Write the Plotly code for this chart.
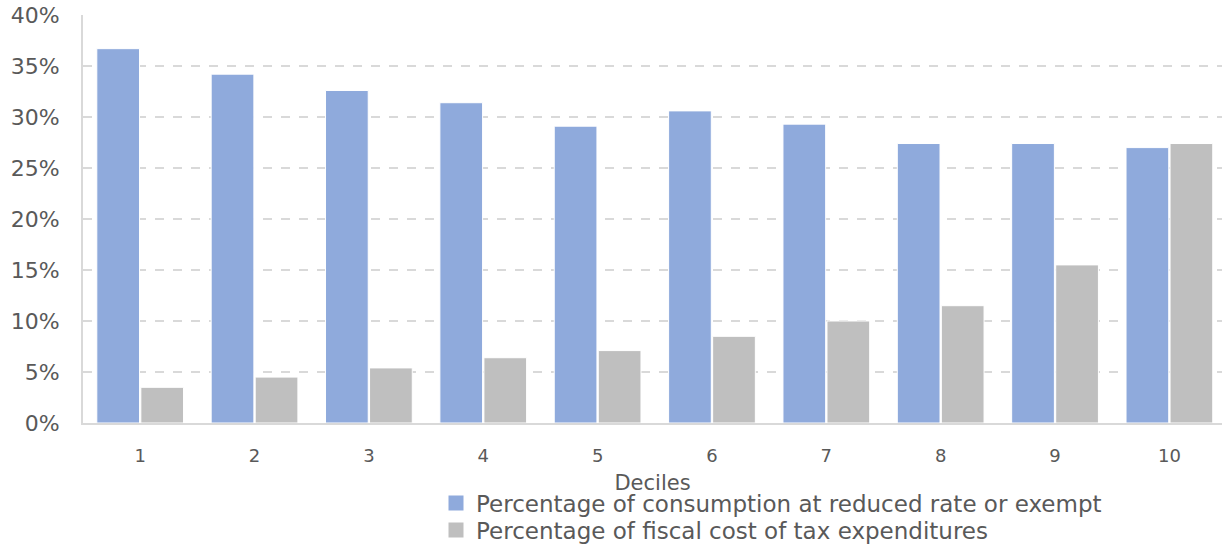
import plotly.graph_objects as go

deciles = [1, 2, 3, 4, 5, 6, 7, 8, 9, 10]
consumption_reduced = [36.7, 34.2, 32.6, 31.4, 29.1, 30.6, 29.3, 27.4, 27.4, 27.0]
fiscal_cost = [3.5, 4.5, 5.4, 6.4, 7.1, 8.5, 10.0, 11.5, 15.5, 27.4]
y_ticks = [0, 5, 10, 15, 20, 25, 30, 35, 40]

series_names = [
    "Percentage of consumption at reduced rate or exempt",
    "Percentage of fiscal cost of tax expenditures",
]
series_colors = ["#8faadc", "#bfbfbf"]
legend_ids = ["legend", "legend2"]

FONT = "DejaVu Sans, Verdana, sans-serif"
TEXT = "#595959"
GRID = "#d9d9d9"

fig = go.Figure()
for name, vals, color, lg in zip(series_names, [consumption_reduced, fiscal_cost],
                                 series_colors, legend_ids):
    fig.add_trace(go.Bar(
        x=deciles, y=vals, name=name, showlegend=False,
        marker=dict(color=color, line=dict(color="#ffffff", width=1)),
    ))
    # legend entry with a larger square swatch
    fig.add_trace(go.Scatter(
        x=[None], y=[None], mode="markers", name=name, showlegend=True,
        legend=lg, marker=dict(symbol="square", size=15, color=color),
    ))

legend_style = dict(
    orientation="v", x=(436 - 83) / 1139, xanchor="left", yanchor="middle",
    font=dict(size=23, color=TEXT, family=FONT),
    itemwidth=30, bgcolor="rgba(0,0,0,0)", borderwidth=0,
)

fig.update_layout(
    width=1222, height=546,
    margin=dict(l=83, r=0, t=15, b=123, autoexpand=False),
    paper_bgcolor="white", plot_bgcolor="white",
    barmode="group", bargap=0.23, bargroupgap=0.03,
    font=dict(family=FONT, color=TEXT),
    legend=dict(y=(423 - 503) / 408, **legend_style),
    legend2=dict(y=(423 - 530) / 408, **legend_style),
)

fig.update_xaxes(
    range=[0.5, 10.46], tickmode="array", tickvals=deciles,
    ticktext=[str(d) for d in deciles],
    tickfont=dict(size=18, color=TEXT), ticks="", ticklabelstandoff=15,
    showgrid=False, showline=True, linecolor=GRID, linewidth=2,
    zeroline=False, automargin=False,
    title=dict(text="Deciles", font=dict(size=21, color=TEXT), standoff=11),
)
fig.update_yaxes(
    range=[0, 40], tickmode="array", tickvals=y_ticks,
    ticktext=[f"{v}%" for v in y_ticks],
    tickfont=dict(size=22, color=TEXT), ticks="", ticklabelstandoff=17,
    showgrid=True, gridcolor=GRID, griddash="dash", gridwidth=1.5,
    showline=True, linecolor=GRID, linewidth=2, zeroline=False,
    automargin=False,
)

fig.write_html("out.html")
